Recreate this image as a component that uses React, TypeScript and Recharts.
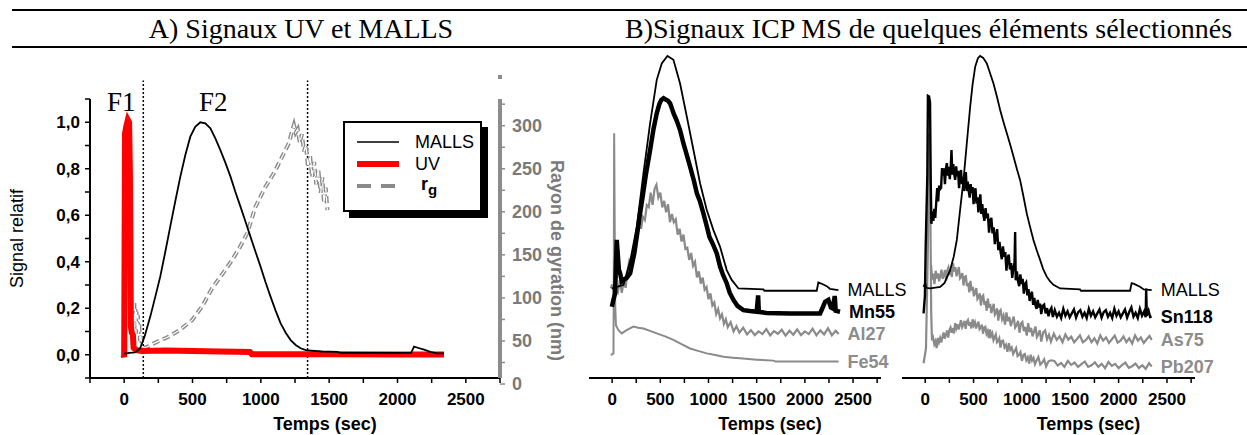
import React from 'react';
import { LineChart, Line, XAxis, YAxis, ReferenceLine, Legend, LabelList } from 'recharts';

const SANS = 'Liberation Sans, Arial, sans-serif';
const SERIF = 'Liberation Serif, Times New Roman, serif';
const GREY = '#8a8a8a';

// ---- axes ----
const timeTicksA = [-250, 0, 250, 500, 750, 1000, 1250, 1500, 1750, 2000, 2250, 2500, 2750];
const timeTicksB = [0, 250, 500, 750, 1000, 1250, 1500, 1750, 2000, 2250, 2500, 2750];
const signalTicks = [-0.1, 0, 0.1, 0.2, 0.3, 0.4, 0.5, 0.6, 0.7, 0.8, 0.9, 1.0, 1.1];
const rgTicks = [0, 25, 50, 75, 100, 125, 150, 175, 200, 225, 250, 275, 300, 325];
const fractionCuts = [140, 1342];

// ---- A) UV / MALLS / rg  [time (s), value] ----
const mallsA = [
  [0, 0.005], [40, 0.008], [80, 0.01], [117, 0.028], [150, 0.08], [191, 0.164], [228, 0.25], [264, 0.336],
  [300, 0.44], [337, 0.551], [374, 0.66], [411, 0.766], [448, 0.86], [484, 0.938], [520, 0.98], [557, 1.0],
  [594, 0.995], [631, 0.974], [668, 0.93], [704, 0.88], [741, 0.825], [778, 0.766], [814, 0.7], [851, 0.637],
  [888, 0.572], [924, 0.508], [961, 0.443], [998, 0.379], [1034, 0.313], [1071, 0.25], [1108, 0.19], [1145, 0.135],
  [1182, 0.095], [1218, 0.063], [1255, 0.042], [1291, 0.028], [1330, 0.02], [1365, 0.018], [1450, 0.014],
  [1560, 0.012], [1580, 0.008], [1800, 0.008], [2100, 0.008], [2121, 0.035], [2160, 0.028], [2195, 0.022],
  [2240, 0.012], [2290, 0.006], [2340, 0.006],
];
const uvA = [
  [-5, 0], [0, -0.01], [3, 0.45], [6, 0.95], [15, 0.98], [27, 1.01], [36, 1.0], [42, 0.78], [46, 0.45], [49, 0.12],
  [56, 0.095], [64, 0.085], [69, 0.03], [90, 0.02], [130, 0.016], [300, 0.018], [500, 0.016], [700, 0.014],
  [920, 0.012], [935, 0.002], [1500, 0.002], [2000, 0.001], [2340, 0.001],
];
const rgA = [
  [62, 78], [66, 92], [70, 70], [74, 96], [78, 66], [82, 88], [86, 72], [90, 84], [95, 62], [100, 80], [105, 58],
  [110, 70], [116, 50], [122, 56], [130, 46], [145, 42], [166, 43], [200, 46], [240, 49], [313, 54], [400, 62],
  [496, 74], [570, 90], [643, 111], [720, 128], [790, 144], [850, 160], [900, 175], [961, 206], [1030, 228],
  [1096, 245], [1150, 262], [1206, 280], [1225, 292], [1242, 301], [1255, 292], [1270, 296], [1285, 280],
  [1300, 290], [1316, 270], [1330, 278], [1345, 252], [1360, 266], [1375, 240], [1390, 258], [1405, 232],
  [1420, 250], [1438, 222], [1450, 240], [1462, 210], [1475, 228], [1487, 202],
];

// ---- B) ICP-MS, left pane (relative units 0-100) ----
const mallsB1 = [
  [-3, 27.3], [50, 27.8], [118, 28.4], [190, 36], [256, 46.1], [325, 62.4], [394, 77.6], [463, 90.9], [515, 95.9],
  [574, 98.2], [636, 97.0], [705, 89.8], [775, 79.7], [844, 69.5], [913, 59.3], [982, 51.2], [1051, 45.1],
  [1120, 40.0], [1189, 32.9], [1241, 29.9], [1311, 27.3], [1570, 27.0], [1580, 26.6], [2123, 26.6], [2140, 29.1],
  [2170, 28.8], [2227, 28.0], [2260, 27.2], [2348, 26.8],
];
const mn55 = [
  [-3, 21.7], [15, 24], [31, 25.8], [40, 35], [48, 42.1], [58, 38], [70, 33], [83, 31.9], [100, 29.5], [118, 29.9],
  [150, 30.5], [187, 31.9], [230, 38], [260, 44], [290, 50.2], [320, 56], [350, 62], [394, 69.5], [430, 76],
  [463, 80.7], [490, 83.5], [510, 84.8], [533, 85.3], [555, 84.9], [580, 84.5], [602, 83.7], [640, 80.5],
  [670, 78.5], [705, 75.6], [740, 71.5], [770, 68.5], [809, 64.4], [850, 60], [880, 56.2], [910, 54], [947, 50.2],
  [980, 46.5], [1010, 43], [1050, 40.5], [1086, 38.0], [1120, 34], [1150, 31.5], [1189, 28.9], [1220, 26],
  [1259, 23.8], [1300, 22], [1362, 20.7], [1430, 20.4], [1500, 20.2], [1515, 25.2], [1522, 20.2], [1600, 19.8],
  [1846, 19.7], [2158, 19.7], [2185, 21.5], [2210, 23.2], [2244, 23.8], [2270, 21.5], [2290, 21.2], [2310, 25],
  [2320, 20.5], [2365, 20.2],
];
const al27 = [
  [-14, 27.3], [0, 28.5], [20, 25], [40, 27.5], [60, 26.2], [80, 29.8], [100, 26], [120, 29.5], [140, 27.5],
  [160, 32.5], [180, 36], [200, 35.5], [220, 36.7], [240, 42.5], [260, 42.5], [280, 48], [300, 45.5], [320, 49.1],
  [340, 48.2], [360, 52.7], [380, 52.1], [400, 56.5], [420, 52.8], [440, 57.6], [460, 58.9], [480, 55], [500, 56.5],
  [520, 52], [540, 54], [560, 50.5], [580, 53], [600, 47.5], [620, 50], [640, 47.5], [660, 48.4], [680, 43.7],
  [700, 45.5], [720, 41.6], [740, 43.7], [760, 39.4], [780, 39.7], [800, 36], [820, 38.1], [840, 34.2], [860, 35.4],
  [880, 30.7], [900, 32.5], [920, 28.8], [940, 30.6], [960, 26.9], [980, 27.7], [1000, 24], [1020, 25.8],
  [1040, 22.1], [1060, 23], [1080, 19.5], [1100, 21], [1120, 18.2], [1140, 19.4], [1160, 16.5], [1180, 17.9],
  [1200, 15.5], [1230, 17], [1260, 14.2], [1290, 15.8], [1320, 13.8], [1360, 15.3], [1400, 13.3], [1440, 14.6],
  [1480, 13.1], [1520, 14.2], [1560, 13.4], [1600, 14.9], [1640, 13], [1680, 14.3], [1720, 13.5], [1760, 14.7],
  [1800, 12.9], [1840, 14.4], [1880, 13.2], [1920, 14.8], [1960, 13.1], [2000, 14.2], [2040, 13.4], [2080, 15],
  [2120, 13], [2160, 14.5], [2200, 13.3], [2240, 15.2], [2280, 13], [2320, 14.4], [2350, 13.4],
];
const fe54 = [
  [-14, 7.0], [14, 7.5], [18, 40], [21, 74.6], [26, 50], [32, 22], [40, 16], [66, 14.6], [100, 13.6], [150, 14.6],
  [221, 15.7], [270, 15.3], [325, 15.1], [400, 14.3], [463, 13.6], [550, 12.7], [636, 11.6], [720, 10.3],
  [809, 9.0], [900, 8.2], [982, 7.5], [1070, 7.0], [1155, 6.5], [1250, 6.2], [1328, 6.0], [1500, 5.6],
  [1674, 5.3], [1700, 5.0], [2000, 5.0], [2350, 5.0],
];

// ---- B) ICP-MS, right pane ----
const mallsB2 = [
  [-17, 27.8], [0, 29], [10, 27.5], [52, 27.3], [155, 27.8], [200, 29], [258, 32.9], [295, 37], [327, 42.1],
  [360, 51], [396, 60.4], [430, 71.5], [465, 82.7], [490, 89.5], [517, 94.9], [545, 97.5], [568, 98.2], [600, 97.6],
  [637, 95.9], [670, 93], [706, 89.8], [740, 86], [775, 81.7], [810, 78], [844, 74.6], [880, 71], [913, 67.5],
  [950, 63.5], [981, 60.4], [1015, 55.5], [1050, 50.2], [1085, 46], [1119, 42.1], [1155, 38.8], [1188, 36.0],
  [1220, 33.2], [1257, 30.9], [1290, 29.5], [1326, 28.4], [1395, 27.3], [1601, 27.0], [1610, 26.6], [2118, 26.6],
  [2135, 28.9], [2160, 28.7], [2221, 27.8], [2260, 27.0], [2342, 26.8],
];
const sn118 = [
  [-17, 19.7], [-3, 25], [5, 40], [22, 62], [28, 86], [40, 85.8], [50, 84], [57, 60], [64, 47], [74, 50.7],
  [84, 47.9], [94, 51.6], [104, 48.8], [114, 53.5], [124, 57.9], [134, 53.8], [144, 58.7], [154, 57.6], [164, 58],
  [174, 64], [184, 61.7], [194, 63.9], [204, 59.1], [214, 63.8], [224, 65.5], [234, 61.7], [244, 64.4], [254, 60.6],
  [264, 64.3], [272, 69.5], [280, 62], [290, 65.2], [300, 62.2], [310, 60.4], [320, 64.5], [330, 61.5], [340, 63.2],
  [350, 57.9], [360, 62.1], [370, 63.4], [380, 59.1], [390, 61.3], [400, 57], [410, 60.2], [420, 62.8], [430, 57],
  [440, 59.9], [450, 57], [460, 55], [470, 59.1], [480, 56.4], [490, 58.2], [500, 53], [510, 56.9], [520, 57.8],
  [530, 53.2], [540, 55.1], [550, 50.5], [560, 53.5], [570, 56], [580, 50], [590, 53], [600, 50], [612, 47.9],
  [624, 51.8], [636, 48.7], [648, 50.1], [660, 44.3], [672, 48], [684, 48.8], [696, 44.1], [708, 45.9], [720, 40.8],
  [732, 43.4], [744, 45.4], [756, 39], [768, 41.5], [780, 38.3], [792, 36.2], [804, 40.1], [816, 37], [828, 38.4],
  [840, 32.7], [852, 36.6], [864, 37.6], [876, 33.1], [888, 35], [900, 30.5], [912, 33.4], [924, 35.3], [930, 44.5],
  [936, 29.8], [948, 32.5], [960, 29.5], [972, 28], [984, 31.6], [996, 28.7], [1008, 30.2], [1020, 25.7],
  [1032, 28.7], [1044, 29.2], [1056, 25.2], [1068, 27.1], [1080, 23.5], [1092, 25.4], [1104, 26.3], [1116, 22.3],
  [1128, 24.4], [1140, 22.2], [1152, 21.1], [1164, 23.8], [1176, 21.5], [1188, 22.7], [1200, 19.5], [1215, 22],
  [1230, 22.4], [1245, 19.7], [1260, 21.3], [1275, 18.8], [1290, 20.6], [1305, 21.4], [1320, 18.6], [1340, 20.7],
  [1362, 18.7], [1384, 19.9], [1406, 18.3], [1428, 21.1], [1450, 19], [1472, 20.3], [1494, 18.5], [1516, 19.7],
  [1538, 20.9], [1560, 18.4], [1582, 20.1], [1604, 20.7], [1626, 18.7], [1648, 19.9], [1670, 18.3], [1692, 21.1],
  [1714, 19], [1736, 20.3], [1758, 18.5], [1780, 19.7], [1802, 20.9], [1824, 18.4], [1846, 20.1], [1868, 20.7],
  [1890, 18.7], [1912, 19.9], [1934, 18.3], [1956, 21.1], [1978, 19], [2000, 20.3], [2022, 18.5], [2044, 19.7],
  [2066, 20.9], [2088, 18.4], [2110, 20.1], [2132, 21.5], [2154, 18.7], [2176, 19.9], [2198, 18.3], [2220, 21.1],
  [2242, 19], [2264, 20.3], [2280, 18.5], [2285, 27.3], [2292, 19], [2310, 20.5], [2326, 18.6], [2342, 18.7],
];
const as75 = [
  [60, 34.5], [72, 30.5], [84, 31.1], [96, 28.6], [108, 32.7], [120, 30.3], [132, 31.9], [144, 29.5], [156, 31.2],
  [168, 33], [180, 30.2], [192, 31.2], [204, 32.9], [216, 29.7], [228, 32.8], [240, 33.7], [252, 31.4], [264, 33.1],
  [276, 30.8], [288, 35], [300, 32.5], [312, 33.8], [324, 31], [336, 32.5], [348, 33.8], [360, 30.4], [372, 30.9],
  [384, 32], [396, 28.2], [408, 30.8], [420, 31], [432, 28], [444, 29], [456, 26.1], [468, 29.6], [480, 26.7],
  [492, 27.8], [504, 24.9], [516, 26.2], [528, 27.4], [540, 24.1], [552, 24.7], [564, 25.8], [576, 22.1],
  [588, 24.8], [600, 25.2], [612, 22.3], [624, 23.4], [636, 20.5], [648, 24.2], [660, 21.4], [672, 22.6],
  [684, 19.8], [696, 21.2], [708, 22.6], [720, 19.3], [732, 19.9], [744, 21.2], [756, 17.5], [768, 20.2],
  [780, 20.7], [795, 17.9], [810, 19.1], [825, 16.3], [840, 20], [855, 17.3], [870, 18.6], [885, 15.8], [900, 17.3],
  [915, 18.7], [930, 15.4], [945, 16.1], [960, 17.4], [975, 13.8], [990, 16.6], [1005, 17.1], [1020, 14.3],
  [1035, 15.6], [1050, 12.9], [1065, 16.7], [1080, 14], [1095, 15.3], [1110, 12.7], [1125, 14.2], [1140, 15.7],
  [1155, 12.5], [1170, 13.3], [1185, 14.6], [1200, 11.1], [1220, 13.9], [1240, 14.5], [1260, 11.8], [1280, 13.2],
  [1300, 11.1], [1330, 13.5], [1360, 11.6], [1390, 12.7], [1420, 10.9], [1450, 13.3], [1480, 11.7], [1510, 12.6],
  [1540, 10.9], [1570, 11.9], [1600, 13], [1630, 10.9], [1660, 11.5], [1690, 12.7], [1720, 10.9], [1750, 12.1],
  [1780, 10.5], [1810, 13], [1840, 11.4], [1870, 12.4], [1900, 10.7], [1930, 11.8], [1960, 12.9], [1990, 10.8],
  [2020, 11.4], [2050, 12.7], [2080, 10.9], [2110, 12.1], [2140, 10.5], [2170, 13], [2200, 11.4], [2230, 12.4],
  [2260, 10.7], [2290, 11.8], [2320, 12.8], [2342, 11.6],
];
const pb207 = [
  [-17, 4.5], [8, 9], [28, 40], [40, 74.6], [48, 72], [55, 45], [62, 20], [70, 11.5], [82, 12.3], [94, 10.3],
  [106, 11.2], [118, 9.1], [130, 12.2], [142, 10.9], [154, 12.2], [166, 10.8], [178, 12.4], [190, 13.9], [202, 12],
  [214, 13.1], [226, 14.5], [238, 12.3], [250, 14.6], [262, 15.4], [274, 13.8], [286, 15.2], [298, 13.6],
  [310, 16.7], [322, 15.2], [334, 16.4], [346, 14.8], [358, 16.2], [370, 17.6], [382, 15.5], [394, 16.3],
  [406, 17.4], [418, 15], [430, 17.1], [442, 17.7], [454, 15.9], [466, 17], [478, 15.1], [490, 17.9], [502, 16.1],
  [514, 17], [526, 15.1], [538, 16.2], [550, 17.2], [562, 14.9], [574, 15.4], [586, 16.3], [598, 13.5], [610, 15.4],
  [622, 15.6], [634, 13.5], [646, 14.3], [658, 12.2], [670, 14.8], [682, 12.8], [694, 13.6], [706, 11.5],
  [718, 12.4], [730, 13.3], [742, 10.9], [754, 11.3], [766, 12.1], [778, 9.3], [790, 11.2], [805, 11.4], [820, 9.3],
  [835, 10.1], [850, 8], [865, 10.6], [880, 8.6], [895, 9.3], [910, 7.3], [925, 8.2], [940, 9.1], [955, 6.7],
  [970, 7.1], [985, 7.9], [1000, 5.2], [1015, 7], [1030, 7.3], [1045, 5.4], [1060, 6.3], [1075, 4.4], [1090, 7.1],
  [1105, 5.3], [1120, 6.1], [1135, 4.2], [1150, 5.3], [1170, 6.4], [1190, 4.1], [1210, 4.7], [1230, 5.7],
  [1250, 3.5], [1275, 5.1], [1300, 5.4], [1335, 5.2], [1370, 3.8], [1405, 4.6], [1440, 3.4], [1475, 5.2],
  [1510, 4], [1545, 4.7], [1580, 3.4], [1615, 4.2], [1650, 5], [1685, 3.4], [1720, 3.9], [1755, 4.8], [1790, 3.4],
  [1825, 4.3], [1860, 3], [1895, 4.9], [1930, 3.7], [1965, 4.3], [2000, 3], [2035, 3.9], [2070, 4.7], [2105, 3.1],
  [2140, 3.6], [2175, 4.4], [2210, 3], [2245, 3.9], [2280, 2.8], [2315, 4.5], [2342, 3.5],
];

const pts = (arr: number[][]) => arr.map(([t, v]) => ({ t, v }));

const tickFont = { fill: '#000', fontSize: 17, fontWeight: 700, fontFamily: SANS };
const timeFmt = (v: number) => (v >= 0 && v <= 2500 && v % 500 === 0 ? String(v) : '');
const sigFmt = (v: number) => {
  const k = Math.round(v * 10);
  return k >= 0 && k % 2 === 0 ? (k / 10).toFixed(1).replace('.', ',') : '';
};
const rgFmt = (v: number) => (v % 50 === 0 ? String(v) : '');

// name printed at the end of a trace
const endLabel = (text: string, color: string, bold: boolean, last: number) => (p: any) => {
  if (p.index !== last) return null;
  const x = p.x ?? p.viewBox?.x;
  const y = p.y ?? p.viewBox?.y;
  return (
    <text x={x + 9} y={y} dominantBaseline="central" fill={color} fontSize={18}
      fontWeight={bold ? 700 : 400} fontFamily={SANS}>{text}</text>
  );
};

const LegendBox = () => (
  <div style={{
    width: 135, height: 79, border: '2px solid #000', background: '#fff', boxShadow: '6px 6px 0 #000',
    fontFamily: SANS, fontSize: 18, paddingTop: 8, boxSizing: 'content-box',
  }}>
    {[
      { k: 'MALLS', stroke: '#000', w: 1.5, dash: undefined as string | undefined },
      { k: 'UV', stroke: '#ff0000', w: 6, dash: undefined },
      { k: 'rg', stroke: GREY, w: 4, dash: '14 10' },
    ].map((it) => (
      <div key={it.k} style={{ display: 'flex', alignItems: 'center', height: 22 }}>
        <svg width={60} height={22}>
          <line x1={12} x2={54} y1={11} y2={11} stroke={it.stroke} strokeWidth={it.w} strokeDasharray={it.dash} />
        </svg>
        {it.k === 'rg'
          ? <span style={{ marginLeft: 16, fontWeight: 700 }}>r<sub style={{ fontSize: 15 }}>g</sub></span>
          : <span style={{ marginLeft: 10 }}>{it.k}</span>}
      </div>
    ))}
  </div>
);

const PanelA = () => (
  <LineChart width={620} height={435} margin={{ top: 99, right: 0, bottom: 0, left: 0 }}>
    <XAxis type="number" dataKey="t" domain={[-250, 2750]} ticks={timeTicksA} tickFormatter={timeFmt}
      allowDataOverflow height={57} tick={tickFont} tickSize={5} tickMargin={10}
      axisLine={{ stroke: '#000', strokeWidth: 2 }} tickLine={{ stroke: '#000', strokeWidth: 1.5 }}
      label={{ value: 'Temps (sec)', position: 'insideBottom', offset: 5, dx: 30, fill: '#000', fontSize: 18, fontWeight: 700, fontFamily: SANS }} />
    <YAxis yAxisId="sig" domain={[-0.1, 1.1]} ticks={signalTicks} tickFormatter={sigFmt} allowDataOverflow
      width={90} tick={tickFont} tickSize={5} tickMargin={5}
      axisLine={{ stroke: '#000', strokeWidth: 2 }} tickLine={{ stroke: '#000', strokeWidth: 1.5 }}
      label={{ value: 'Signal relatif', angle: -90, position: 'insideLeft', offset: 17, fill: '#000', fontSize: 18, fontFamily: SANS, style: { textAnchor: 'middle' } }} />
    <YAxis yAxisId="rg" orientation="right" domain={[7, 331]} ticks={rgTicks} tickFormatter={rgFmt} allowDataOverflow
      width={120} tick={{ ...tickFont, fill: '#7a7a7a', fontSize: 18 }} tickSize={5} tickMargin={7}
      axisLine={{ stroke: '#8c8c8c', strokeWidth: 4 }} tickLine={{ stroke: '#8c8c8c', strokeWidth: 1.5 }}
      label={{ value: 'Rayon de gyration (nm)', angle: 90, position: 'insideLeft', offset: 57, dy: 22, fill: '#7a7a7a', fontSize: 18, fontWeight: 700, fontFamily: SANS, style: { textAnchor: 'middle' } }} />
    {fractionCuts.map((c) => (
      <ReferenceLine key={c} yAxisId="sig" ifOverflow="visible" segment={[{ x: c, y: -0.1 }, { x: c, y: 1.18 }]}
        stroke="#000" strokeWidth={1.5} strokeDasharray="2 2" />
    ))}
    <Line yAxisId="rg" data={pts(rgA)} dataKey="v" stroke={GREY} strokeWidth={4} strokeDasharray="7 4" dot={false} isAnimationActive={false} legendType="none" />
    <Line yAxisId="rg" data={pts(rgA)} dataKey="v" stroke="#fff" strokeWidth={1.2} strokeDasharray="7 4" dot={false} isAnimationActive={false} legendType="none" />
    <Line yAxisId="sig" data={pts(uvA)} dataKey="v" stroke="#ff0000" strokeWidth={6} dot={false} isAnimationActive={false} />
    <Line yAxisId="sig" data={pts(mallsA)} dataKey="v" stroke="#000" strokeWidth={1.8} dot={false} isAnimationActive={false} />
    <Legend layout="vertical" align="center" verticalAlign="middle" content={() => <LegendBox />}
      wrapperStyle={{ left: 343, top: 121, width: 139, height: 89 }} />
  </LineChart>
);

type Trace = { data: number[][]; name: string; color: string; width: number; bold: boolean };

const PanelB = ({ left, width, mLeft, mRight, dx, traces }: { left: number; width: number; mLeft: number; mRight: number; dx: number; traces: Trace[] }) => (
  <div style={{ position: 'absolute', left, top: 0 }}>
    <LineChart width={width} height={435} margin={{ top: 50, right: mRight, bottom: 0, left: mLeft }}>
      <XAxis type="number" dataKey="t" domain={[-240, 2790]} ticks={timeTicksB} tickFormatter={timeFmt}
        allowDataOverflow height={57} tick={tickFont} tickSize={5} tickMargin={10}
        axisLine={{ stroke: '#000', strokeWidth: 2 }} tickLine={{ stroke: '#000', strokeWidth: 1.5 }}
        label={{ value: 'Temps (sec)', position: 'insideBottom', offset: 5, dx, fill: '#000', fontSize: 18, fontWeight: 700, fontFamily: SANS }} />
      <YAxis hide domain={[0, 100]} allowDataOverflow />
      {traces.map((tr) => (
        <Line key={tr.name} data={pts(tr.data)} dataKey="v" stroke={tr.color} strokeWidth={tr.width}
          dot={false} isAnimationActive={false}>
          <LabelList dataKey="v" content={endLabel(tr.name, tr.color === '#000' ? '#000' : '#8c8c8c', tr.bold, tr.data.length - 1)} />
        </Line>
      ))}
    </LineChart>
  </div>
);

const tracesB1: Trace[] = [
  { data: fe54, name: 'Fe54', color: GREY, width: 2, bold: true },
  { data: al27, name: 'Al27', color: GREY, width: 2.2, bold: true },
  { data: mn55, name: 'Mn55', color: '#000', width: 4.5, bold: true },
  { data: mallsB1, name: 'MALLS', color: '#000', width: 1.8, bold: false },
];
const tracesB2: Trace[] = [
  { data: pb207, name: 'Pb207', color: GREY, width: 2.2, bold: true },
  { data: as75, name: 'As75', color: GREY, width: 2.2, bold: true },
  { data: sn118, name: 'Sn118', color: '#000', width: 2.4, bold: true },
  { data: mallsB2, name: 'MALLS', color: '#000', width: 1.8, bold: false },
];

export default function App() {
  return (
    <div style={{ position: 'absolute', left: 0, top: 0, width: 1247, height: 435, background: '#fff', overflow: 'hidden' }}>
      <div style={{ position: 'absolute', left: 12, top: 9, width: 1235, height: 2, background: '#000' }} />
      <div style={{ position: 'absolute', left: 12, top: 46, width: 1235, height: 2, background: '#000' }} />
      <div style={{ position: 'absolute', left: 1, top: 15, width: 600, textAlign: 'center', fontFamily: SERIF, fontSize: 28, lineHeight: '28px', whiteSpace: 'nowrap' }}>
        A) Signaux UV et MALLS
      </div>
      <div style={{ position: 'absolute', left: 625, top: 15, fontFamily: SERIF, fontSize: 28, lineHeight: '28px', whiteSpace: 'nowrap' }}>
        B)Signaux ICP MS de quelques éléments sélectionnés
      </div>

      <div style={{ position: 'absolute', left: 0, top: 0 }}>
        <PanelA />
      </div>
      <div style={{ position: 'absolute', left: 107, top: 89, fontFamily: SERIF, fontSize: 27, lineHeight: '27px' }}>F1</div>
      <div style={{ position: 'absolute', left: 199, top: 89, fontFamily: SERIF, fontSize: 27, lineHeight: '27px' }}>F2</div>
      <div style={{ position: 'absolute', left: 498, top: 75, width: 4, height: 4, background: '#8c8c8c' }} />

      <PanelB left={560} width={350} mLeft={29} mRight={29} dx={35} traces={tracesB1} />
      <PanelB left={880} width={367} mLeft={22} mRight={52} dx={40} traces={tracesB2} />
    </div>
  );
}
